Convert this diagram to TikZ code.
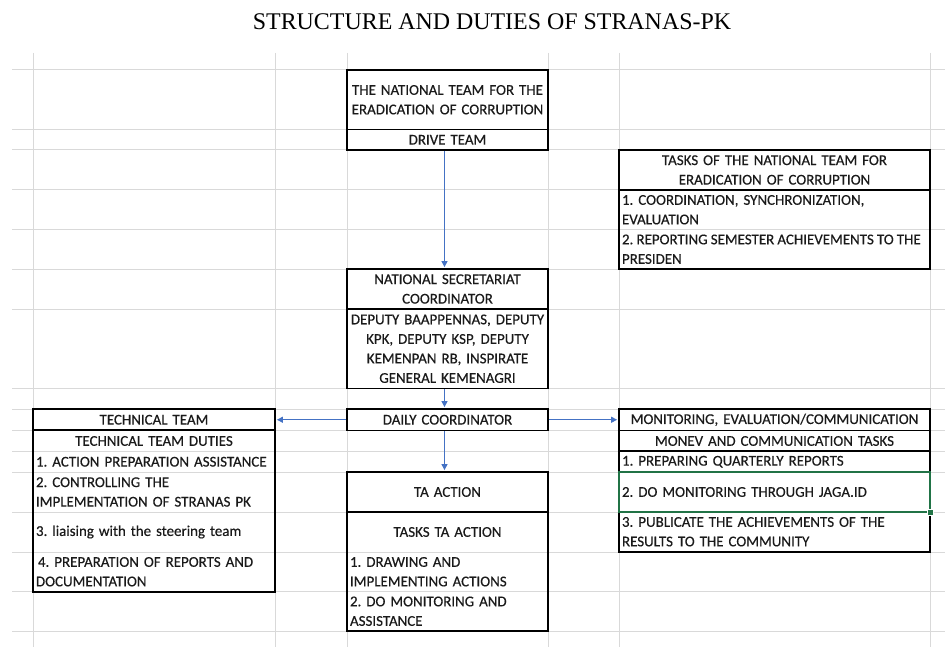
\documentclass[tikz,border=0pt]{standalone}
\usepackage{fontspec}
\setmainfont{Carlito}
\newfontfamily\cellfont{Carlito}[RawFeature={embolden=0.4}]
\newfontfamily\titlefont{Liberation Serif}
\usetikzlibrary{arrows.meta}
\definecolor{gridc}{HTML}{D9D9D9}
\definecolor{arrowc}{HTML}{4472C4}
\definecolor{selc}{HTML}{217346}
\definecolor{txtc}{HTML}{1A1A1A}
\frenchspacing
\tikzset{
  cellbox/.style={rectangle, inner xsep=3bp, inner ysep=0pt, font=\cellfont\fontsize{15}{19.6}\selectfont\frenchspacing, text=txtc},
  thickbox/.style={draw=black, line width=1.8bp},
  grpbox/.style={draw=black, line width=1.8bp},
  gridline/.style={draw=gridc, line width=1bp},
  selbox/.style={draw=selc, line width=1.8bp},
  flow/.style={draw=arrowc, line width=1.1bp, -{Triangle[length=6bp,width=6bp]}},
}
\newcommand{\xcell}[7]{%
  \pgfmathsetmacro\xcw{#3-#2}\pgfmathsetmacro\xch{#5-#4}%
  \pgfmathsetmacro\xcx{(#2+#3)/2}\pgfmathsetmacro\xcy{(#4+#5)/2}%
  \pgfmathsetmacro\xtw{#3-#2-6}%
  \node[cellbox,#6,minimum width=\xcw bp,minimum height=\xch bp,text width=\xtw bp] (#1) at (\xcx,\xcy) {#7};}
\begin{document}
\begin{tikzpicture}[x=1bp,y=-1bp]
\useasboundingbox (0,0) rectangle (945,647);
% grid
\foreach \yy in {70,129.5,150,190,229.5,269,309,388.5,409,430.5,451.5,472,512,552,591.5,631}
  \draw[gridline] (12,\yy) -- (945,\yy);
\foreach \xx in {33,275,347,548,619,930}
  \draw[gridline] (\xx,53) -- (\xx,647);
% title
\node[font=\titlefont\fontsize{24}{28}\selectfont] (title) at (492,22) {STRUCTURE AND DUTIES OF STRANAS-PK};
% top centre
\xcell{t1}{347}{548}{70}{129.5}{thickbox,align=center}{THE NATIONAL TEAM FOR THE\\ERADICATION OF CORRUPTION}
\xcell{t2}{347}{548}{129.5}{150}{thickbox,align=center}{DRIVE TEAM}
% tasks of national team
\xcell{k1}{619}{930}{150}{190}{thickbox,align=center}{TASKS OF THE NATIONAL TEAM FOR\\ERADICATION OF CORRUPTION}
\xcell{k2}{619}{930}{190}{229.5}{align=left}{\mbox{1. COORDINATION, SYNCHRONIZATION,}\\EVALUATION}
\xcell{k3}{619}{930}{229.5}{269}{align=left}{\mbox{\spaceskip=0.21em 2. REPORTING SEMESTER ACHIEVEMENTS TO THE}\\PRESIDEN}
\draw[grpbox] (k2.north west) rectangle (k3.south east);
% secretariat
\xcell{s1}{347}{548}{269}{309}{thickbox,align=center}{NATIONAL SECRETARIAT\\COORDINATOR}
\xcell{s2}{347}{548}{309}{388.5}{thickbox,align=center}{DEPUTY BAAPPENNAS, DEPUTY\\KPK, DEPUTY KSP, DEPUTY\\KEMENPAN RB, INSPIRATE\\GENERAL KEMENAGRI}
\xcell{d}{347}{548}{409}{430.5}{thickbox,align=center}{DAILY COORDINATOR}
% technical team
\xcell{a1}{33}{275}{409}{430.5}{thickbox,align=center}{TECHNICAL TEAM}
\xcell{a2}{33}{275}{430.5}{451.5}{align=center}{TECHNICAL TEAM DUTIES}
\xcell{a3}{33}{275}{451.5}{472}{align=left}{\mbox{1. ACTION PREPARATION ASSISTANCE}}
\xcell{a4}{33}{275}{472}{512}{align=left}{2. CONTROLLING THE\\IMPLEMENTATION OF STRANAS PK}
\xcell{a5}{33}{275}{512}{552}{align=left}{3. liaising with the steering team}
\xcell{a6}{33}{275}{552}{591.5}{align=left}{\hspace{2bp}4. PREPARATION OF REPORTS AND\\DOCUMENTATION}
\draw[grpbox] (a2.north west) rectangle (a6.south east);
% monitoring
\xcell{m1}{619}{930}{409}{430.5}{thickbox,align=center}{MONITORING, EVALUATION/COMMUNICATION}
\xcell{m2}{619}{930}{430.5}{451.5}{thickbox,align=center}{MONEV AND COMMUNICATION TASKS}
\xcell{m3}{619}{930}{451.5}{472}{align=left}{1. PREPARING QUARTERLY REPORTS}
\xcell{m4}{619}{930}{472}{512}{align=left}{2. DO MONITORING THROUGH JAGA.ID}
\xcell{m5}{619}{930}{512}{551.5}{align=left}{3. PUBLICATE THE ACHIEVEMENTS OF THE\\RESULTS TO THE COMMUNITY}
\draw[grpbox] (m3.north west) rectangle (m5.south east);
\draw[selbox] (m4.north west) rectangle (m4.south east);
\node[fill=selc, draw=white, line width=0.8bp, minimum size=6bp, inner sep=0pt] (handle) at (m4.south east) {};
% TA action
\xcell{b1}{347}{548}{472}{512}{thickbox,align=center}{TA ACTION}
\xcell{b2}{347}{548}{512}{552}{align=center}{TASKS TA ACTION}
\xcell{b3}{347}{548}{552}{591.5}{align=left}{1. DRAWING AND\\IMPLEMENTING ACTIONS}
\xcell{b4}{347}{548}{591.5}{631}{align=left}{2. DO MONITORING AND\\ASSISTANCE}
\draw[grpbox] (b2.north west) rectangle (b4.south east);
% arrows
\draw[flow] ([xshift=-3bp]t2.south) -- ([xshift=-3bp,yshift=1bp]s1.north);
\draw[flow] ([xshift=-3bp]s2.south) -- ([xshift=-3bp,yshift=1bp]d.north);
\draw[flow] ([xshift=-3bp]d.south) -- ([xshift=-3bp,yshift=1bp]b1.north);
\draw[flow] (d.west) -- ([xshift=1bp]a1.east);
\draw[flow] (d.east) -- ([xshift=-1bp]m1.west);
\end{tikzpicture}
\end{document}
